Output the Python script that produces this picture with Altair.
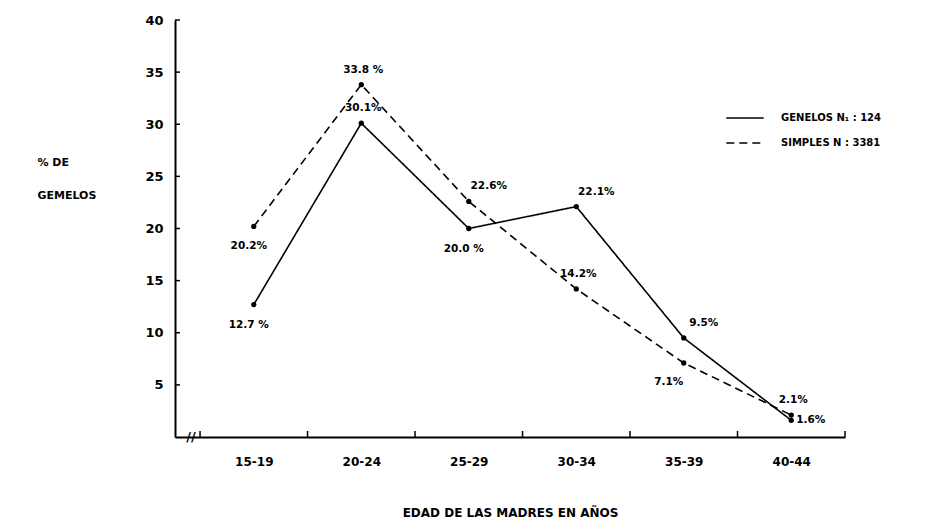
import json
import altair as alt
import pandas as pd

# ---- data ----
categories = ["15-19", "20-24", "25-29", "30-34", "35-39", "40-44"]
series_names = ["GENELOS N\u2081 : 124", "SIMPLES N : 3381"]
gemelos = [12.7, 30.1, 20.0, 22.1, 9.5, 1.6]
simples = [20.2, 33.8, 22.6, 14.2, 7.1, 2.1]
gemelos_labels = ["12.7 %", "30.1%", "20.0 %", "22.1%", "9.5%", "1.6%"]
simples_labels = ["20.2%", "33.8 %", "22.6%", "14.2%", "7.1%", "2.1%"]
gemelos_label_pos = ["below", "above", "below", "upright", "upright", "right"]
simples_label_pos = ["below", "above", "upright", "above", "downleft", "above"]
y_ticks = [5, 10, 15, 20, 25, 30, 35, 40]
x_bounds = [-0.5, 0.5, 1.5, 2.5, 3.5, 4.5, 5.5]

rows = []
for i, c in enumerate(categories):
    rows.append(dict(idx=i, cat=c, serie=series_names[0], val=gemelos[i],
                     lab=gemelos_labels[i], pos=gemelos_label_pos[i]))
for i, c in enumerate(categories):
    rows.append(dict(idx=i, cat=c, serie=series_names[1], val=simples[i],
                     lab=simples_labels[i], pos=simples_label_pos[i]))
df = pd.DataFrame(rows)

W, H = 670, 417
FONT = "DejaVu Sans"
label_expr = json.dumps(categories) + "[datum.value]"

xs = alt.Scale(domain=[-0.733, 5.5], nice=False, zero=False)
ys = alt.Scale(domain=[0, 40], nice=False)

x_enc = alt.X("idx:Q", scale=xs,
              axis=alt.Axis(values=list(range(len(categories))), labelExpr=label_expr,
                            ticks=False, grid=False, domainColor="black", domainWidth=2,
                            labelFont=FONT, labelFontSize=12, labelFontWeight="bold",
                            labelColor="black", labelPadding=19,
                            title="EDAD  DE LAS MADRES EN AÑOS", titleFont=FONT,
                            titleFontSize=12, titleFontWeight="bold", titleColor="black",
                            titlePadding=40))
y_enc = alt.Y("val:Q", scale=ys,
              axis=alt.Axis(values=y_ticks, ticks=False, grid=False, domainColor="black",
                            domainWidth=2, labelFont=FONT, labelFontSize=13,
                            labelFontWeight="bold", labelColor="black", labelPadding=12,
                            title=["% DE", "GEMELOS"], titleAngle=0, titleAlign="left",
                            titleBaseline="top", titleX=-138, titleY=136,
                            titleLineHeight=33, titleFont=FONT, titleFontSize=11,
                            titleFontWeight="bold", titleColor="black"))

dash = alt.StrokeDash("serie:N",
                      scale=alt.Scale(domain=series_names, range=[[1, 0], [8, 5]]),
                      legend=alt.Legend(title=None, orient="none", legendX=550, legendY=78,
                                        symbolType="stroke", symbolSize=1400,
                                        symbolStrokeWidth=1.6, symbolStrokeColor="black",
                                        labelFont=FONT, labelFontSize=10,
                                        labelFontWeight="bold", labelColor="black",
                                        labelOffset=16, rowPadding=-15))

base = alt.Chart(df)
lines = base.mark_line(color="black", strokeWidth=1.6).encode(
    x=x_enc, y=y_enc, strokeDash=dash, detail="serie:N")
points = base.mark_circle(color="black", size=28, opacity=1).encode(
    x="idx:Q", y="val:Q")

offsets = {
    "below": dict(dx=-5, dy=20, align="center"),
    "above": dict(dx=2, dy=-15, align="center"),
    "upright": dict(dx=20, dy=-15, align="center"),
    "right": dict(dx=5, dy=0, align="left"),
    "downleft": dict(dx=-15, dy=19, align="center"),
}
label_layers = []
for p, o in offsets.items():
    label_layers.append(
        base.transform_filter(alt.datum.pos == p).mark_text(
            font=FONT, fontSize=10.5, fontWeight="bold", color="black",
            baseline="middle", **o).encode(x="idx:Q", y="val:Q", text="lab:N"))

ytick_df = pd.DataFrame({"v": y_ticks})
yticks = alt.Chart(ytick_df).mark_rule(color="black", strokeWidth=1.5).encode(
    y="v:Q", x=alt.value(0), x2=alt.value(5))
xtick_df = pd.DataFrame({"b": x_bounds})
xticks = alt.Chart(xtick_df).mark_rule(color="black", strokeWidth=1.5).encode(
    x="b:Q", y=alt.value(H), y2=alt.value(H - 6))
brk = alt.Chart(pd.DataFrame({"t": ["//"]})).mark_text(
    font=FONT, fontSize=13, fontWeight="bold", color="black", align="center",
    baseline="middle").encode(text="t:N", x=alt.value(16), y=alt.value(H))

chart = alt.layer(lines, points, *label_layers, yticks, xticks, brk).properties(
    width=W, height=H,
    background="white",
    padding={"left": 167, "top": 12, "right": 78, "bottom": 81},
    autosize=alt.AutoSizeParams(type="none"),
).configure_view(strokeWidth=0, stroke="transparent")

chart.save("out.html", embed_options={"renderer": "svg", "actions": False})
